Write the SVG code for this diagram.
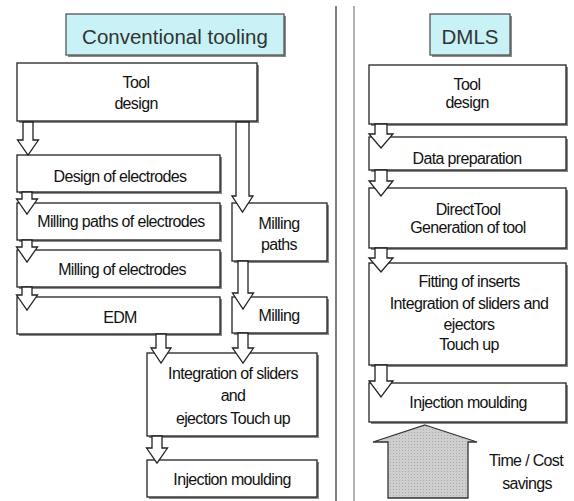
<svg xmlns="http://www.w3.org/2000/svg" width="574" height="501" viewBox="0 0 574 501">
<defs>
<style>
.box{fill:#fff;stroke:#222;stroke-width:1.3}
.sh{fill:#888}
.hdr{fill:#c8f2f6;stroke:#555;stroke-width:1.3}
.t{font-family:"Liberation Sans",Arial,sans-serif;font-size:16px;fill:#111;text-anchor:middle;letter-spacing:-0.65px}
.h{font-family:"Liberation Sans",Arial,sans-serif;font-size:20.5px;fill:#333;text-anchor:middle}
.arr{fill:#fff;stroke:#222;stroke-width:1.3;stroke-linejoin:miter}
</style>
<pattern id="dots" width="3" height="3" patternUnits="userSpaceOnUse">
<rect width="3" height="3" fill="#cfcfcf"/>
<rect width="1" height="1" fill="#a8a8a8"/>
</pattern>
</defs>
<rect width="574" height="501" fill="#fff"/>
<line x1="336" y1="6" x2="336" y2="501" stroke="#555" stroke-width="1.5"/>
<line x1="354" y1="6" x2="354" y2="501" stroke="#999" stroke-width="1.5"/>

<g id="hdr-conv"><rect class="sh" x="68" y="16" width="218" height="41"/><rect class="hdr" x="66" y="14" width="218" height="41"/><text class="h" x="175" y="44">Conventional tooling</text></g>
<g id="hdr-dmls"><rect class="sh" x="432" y="16" width="80" height="41"/><rect class="hdr" x="430" y="14" width="80" height="41"/><text class="h" x="470" y="44">DMLS</text></g>

<g id="c-tool"><rect class="sh" x="19" y="65" width="240" height="58"/><rect class="box" x="17" y="63" width="240" height="58"/><text class="t" x="136" y="88">Tool</text><text class="t" x="136" y="109">design</text></g>
<g id="c-design-el"><rect class="sh" x="19" y="157" width="203" height="37"/><rect class="box" x="17" y="155" width="203" height="37"/><text class="t" x="120" y="182">Design of electrodes</text></g>
<g id="c-mpaths-el"><rect class="sh" x="19" y="205" width="203" height="37"/><rect class="box" x="17" y="203" width="203" height="37"/><text class="t" x="121" y="227">Milling paths of electrodes</text></g>
<g id="c-mill-el"><rect class="sh" x="19" y="252" width="203" height="37"/><rect class="box" x="17" y="250" width="203" height="37"/><text class="t" x="122" y="275">Milling of electrodes</text></g>
<g id="c-edm"><rect class="sh" x="19" y="299" width="203" height="37"/><rect class="box" x="17" y="297" width="203" height="37"/><text class="t" x="120" y="323">EDM</text></g>
<g id="c-mpaths"><rect class="sh" x="234" y="205" width="95" height="58"/><rect class="box" x="232" y="203" width="95" height="58"/><text class="t" x="279" y="229">Milling</text><text class="t" x="279" y="250">paths</text></g>
<g id="c-mill"><rect class="sh" x="234" y="299" width="95" height="36"/><rect class="box" x="232" y="297" width="95" height="36"/><text class="t" x="279" y="321">Milling</text></g>
<g id="c-integ"><rect class="sh" x="149" y="355" width="170" height="83"/><rect class="box" x="147" y="353" width="170" height="83"/><text class="t" x="233" y="379">Integration of sliders</text><text class="t" x="233" y="401">and</text><text class="t" x="233" y="424">ejectors Touch up</text></g>
<g id="c-inj"><rect class="sh" x="149" y="462" width="170" height="37"/><rect class="box" x="147" y="460" width="170" height="37"/><text class="t" x="232" y="485">Injection moulding</text></g>

<g id="d-tool"><rect class="sh" x="371" y="67" width="197" height="59"/><rect class="box" x="369" y="65" width="197" height="59"/><text class="t" x="467" y="90">Tool</text><text class="t" x="467" y="108">design</text></g>
<g id="d-data"><rect class="sh" x="371" y="139" width="197" height="33"/><rect class="box" x="369" y="137" width="197" height="33"/><text class="t" x="467" y="164">Data preparation</text></g>
<g id="d-direct"><rect class="sh" x="371" y="190" width="197" height="60"/><rect class="box" x="369" y="188" width="197" height="60"/><text class="t" x="468" y="215">DirectTool</text><text class="t" x="468" y="233">Generation of tool</text></g>
<g id="d-fit"><rect class="sh" x="371" y="265" width="197" height="102"/><rect class="box" x="369" y="263" width="197" height="102"/><text class="t" x="469" y="287">Fitting of inserts</text><text class="t" x="469" y="309">Integration of sliders and</text><text class="t" x="469" y="330">ejectors</text><text class="t" x="469" y="350">Touch up</text></g>
<g id="d-inj"><rect class="sh" x="371" y="385" width="197" height="39"/><rect class="box" x="369" y="383" width="197" height="39"/><text class="t" x="468" y="408">Injection moulding</text></g>

<g id="savings"><path d="M425,425 L477,442 L468,442 L468,498 L388,498 L388,442 L373,442 Z" fill="url(#dots)" stroke="#333" stroke-width="1.3"/><text class="t" x="526" y="466">Time / Cost</text><text class="t" x="527" y="489">savings</text></g>

<g id="connectors">
<path class="arr" d="M23,122 L33,122 L33,140 L38.5,140 L28,155 L17.5,140 L23,140 Z"/>
<path class="arr" d="M22,192 L32,192 L32,199 L37.5,199 L27,214 L16.5,199 L22,199 Z"/>
<path class="arr" d="M22,240 L32,240 L32,247 L37.5,247 L27,262 L16.5,247 L22,247 Z"/>
<path class="arr" d="M22,287 L32,287 L32,295 L37.5,295 L27,310 L16.5,295 L22,295 Z"/>
<path class="arr" d="M236,122 L249,122 L249,196 L253,196 L242.5,212 L232,196 L236,196 Z"/>
<path class="arr" d="M238,261 L248,261 L248,293 L253.5,293 L243,309 L232.5,293 L238,293 Z"/>
<path class="arr" d="M156,334 L166,334 L166,348 L171,348 L161,363 L151,348 L156,348 Z"/>
<path class="arr" d="M238,333 L248,333 L248,348 L253.5,348 L243,363 L232.5,348 L238,348 Z"/>
<path class="arr" d="M152,436 L162,436 L162,448 L167.5,448 L157,463 L146.5,448 L152,448 Z"/>
<path class="arr" d="M375,124 L387,124 L387,134 L393,134 L381,148 L369,134 L375,134 Z"/>
<path class="arr" d="M375,170 L387,170 L387,181 L393,181 L381,196 L369,181 L375,181 Z"/>
<path class="arr" d="M375,248 L387,248 L387,258 L393,258 L381,272 L369,258 L375,258 Z"/>
<path class="arr" d="M375,365 L387,365 L387,381 L393,381 L381,397 L369,381 L375,381 Z"/>
</g>
</svg>
